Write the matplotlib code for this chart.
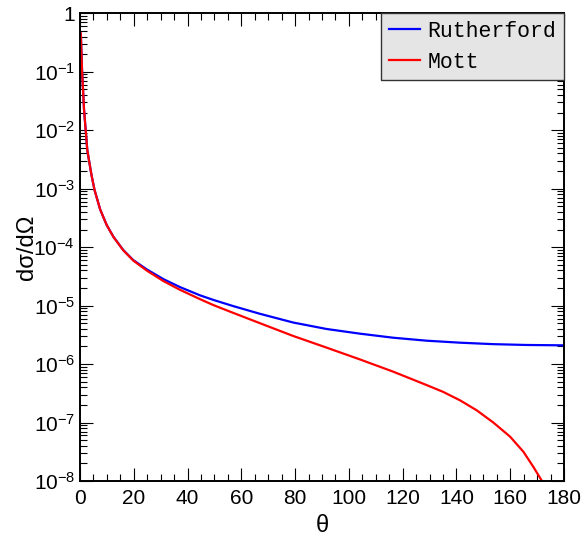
import numpy as np
from matplotlib import pyplot as plt
from matplotlib.ticker import MultipleLocator, LogLocator, FuncFormatter, NullFormatter

# valores
theta_ruth = [0.3, 0.75, 1.5, 2.7, 4.2, 5.4, 7.5, 9.9, 12.4, 16.1, 19.8, 24.8, 31.0,
              37.2, 44.6, 49.6, 57.0, 66.9, 79.3, 91.7, 104.1, 116.5, 128.9, 141.3,
              153.7, 166.1, 180.0]
ruth = [4.5e-1, 1.07e-1, 2.24e-2, 4.6e-3, 1.78e-3, 9.5e-4, 4.4e-4, 2.4e-4, 1.51e-4,
        8.9e-5, 6.0e-5, 4.17e-5, 2.84e-5, 2.07e-5, 1.50e-5, 1.25e-5, 9.8e-6, 7.24e-6,
        5.13e-6, 3.98e-6, 3.31e-6, 2.82e-6, 2.51e-6, 2.32e-6, 2.19e-6, 2.12e-6, 2.09e-6]

theta_mott = [0.3, 0.75, 1.5, 2.7, 4.2, 5.4, 7.5, 9.9, 12.4, 16.1, 19.8, 24.8, 31.0,
              37.2, 44.6, 49.6, 57.0, 66.9, 79.3, 91.7, 104.1, 116.5, 128.9, 135.0,
              141.3, 147.5, 153.7, 159.9, 164.9, 168.6, 171.8, 173.0]
mott = [4.5e-1, 1.07e-1, 2.24e-2, 4.6e-3, 1.78e-3, 9.5e-4, 4.4e-4, 2.4e-4, 1.50e-4,
        8.8e-5, 5.9e-5, 3.98e-5, 2.63e-5, 1.86e-5, 1.29e-5, 1.02e-5, 7.5e-6, 5.0e-6,
        3.02e-6, 1.91e-6, 1.20e-6, 7.4e-7, 4.37e-7, 3.35e-7, 2.4e-7, 1.62e-7, 1.0e-7,
        5.75e-8, 3.16e-8, 1.74e-8, 1.0e-8, 6.0e-9]

plt.rcParams['font.family'] = ['Liberation Sans', 'DejaVu Sans']
plt.rcParams['mathtext.default'] = 'regular'

fig = plt.figure(figsize=(5.84, 5.40), dpi=100)
ax = fig.add_axes([0.137, 0.1093, 0.8288, 0.8661])

ax.plot(theta_ruth, ruth, color='#0000ff', lw=1.6, label='Rutherford')
ax.plot(theta_mott, mott, color='#ff0000', lw=1.6, label='Mott')

ax.set_yscale('log')
ax.set_xlim(0, 180)
ax.set_ylim(1e-8, 1)

ax.xaxis.set_major_locator(MultipleLocator(20))
ax.xaxis.set_minor_locator(MultipleLocator(5))
ax.yaxis.set_major_locator(LogLocator(base=10, numticks=20))
ax.yaxis.set_minor_locator(LogLocator(base=10, subs=np.arange(2, 10), numticks=20))
ax.yaxis.set_minor_formatter(NullFormatter())


def fmt(v, pos):
    e = int(round(np.log10(v)))
    if e == 0:
        return '1'
    return r'$10^{%d}$' % e


ax.yaxis.set_major_formatter(FuncFormatter(fmt))

ax.tick_params(which='both', direction='in', top=True, right=True, labelsize=15, width=0.8)
ax.tick_params(which='major', length=9.5)
ax.tick_params(which='minor', length=5)
ax.tick_params(axis='x', pad=6)
for s in ax.spines.values():
    s.set_linewidth(1.4)

ax.set_xlabel('θ', fontsize=17, labelpad=5)
ax.set_ylabel('dσ/dΩ', fontsize=17, labelpad=-3)

leg = ax.legend(loc='upper right', borderaxespad=0, fancybox=False, framealpha=1,
                facecolor='#e5e5e5', edgecolor='#333333', handlelength=1.45,
                handletextpad=0.35, borderpad=0.35, labelspacing=0.45,
                prop={'family': 'Liberation Mono', 'size': 15.5})
leg.get_frame().set_linewidth(1.0)

plt.savefig('out.png', dpi=100)
